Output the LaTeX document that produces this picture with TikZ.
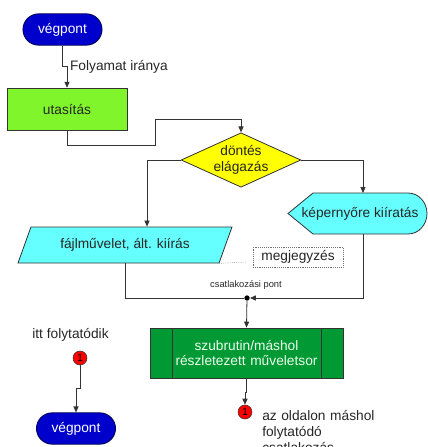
\documentclass[tikz,border=0pt]{standalone}
\usepackage{fontspec}
\setmainfont{Liberation Sans}
\usetikzlibrary{arrows.meta,positioning,calc,shapes.geometric,shapes.misc}
\definecolor{vblue}{RGB}{0,0,204}
\definecolor{lime}{RGB}{129,245,43}
\definecolor{dyellow}{RGB}{255,255,0}
\definecolor{scyan}{RGB}{102,255,255}
\definecolor{sgreen}{RGB}{0,153,51}
\definecolor{cred}{RGB}{255,0,0}
\definecolor{ink}{RGB}{51,51,51}

\begin{document}
\begin{tikzpicture}[x=0.75pt, y=-0.75pt,
    box/.style={draw=ink, fill=#1, line width=0.6pt, align=center,
                font=\fontsize{10.3}{12}\selectfont, text=black!85},
    term/.style={rounded rectangle, draw=black!70!blue, fill=vblue, line width=0.6pt,
                 text=white, minimum width=66pt, minimum height=23.5pt,
                 font=\fontsize{10.3}{12}\selectfont},
    conn/.style={circle, draw=ink, fill=cred, inner sep=0pt, minimum size=10.5pt,
                 font=\fontsize{8}{8}\selectfont},
    lbl/.style={font=\fontsize{10.3}{12}\selectfont, text=black!85},
    arr/.style={-{Triangle[length=4.5pt,width=3.8pt]}, draw=ink, line width=0.6pt},
    wire/.style={draw=ink, line width=0.6pt}]

    \clip (0,0) rectangle (428,447);

    % start and first step
    \node[term] (v1) at (62.5,29.5) {végpont};
    \node[box=lime, minimum width=90pt, minimum height=32pt] (uta) at (67,109.5) {utasítás};
    \draw[arr] (v1.south) -- ++(0,21) -| (uta.north)
        node[lbl, pos=0.5, anchor=west, inner sep=2pt] (flow) {Folyamat iránya};

    % decision
    \node[box=dyellow, diamond, inner sep=0pt, aspect=2.2, text width=42pt,
          minimum width=88.5pt, minimum height=40.5pt] (dec) at (241,160) {döntés\\elágazás};
    \draw[arr] (uta.south) -- ++(0,14) -| ++(88,-26) -| (dec.north);

    % right branch: display
    \draw[draw=ink, fill=scyan, line width=0.6pt] (288,213.5) -- (313,193) -- (408,193)
        to[out=0,in=90] (427,213.5) to[out=-90,in=0] (408,234) -- (313,234) -- cycle;
    \node[lbl] (disp) at (360,213.5) {képernyőre kiíratás};
    \coordinate (dtop) at (363,193);
    \coordinate (dbot) at (363,234);
    \draw[arr] (dec.east) -| (dtop);

    % left branch: file i/o
    \node[box=scyan, trapezium, trapezium left angle=45, trapezium right angle=135,
          trapezium stretches body, minimum width=160.5pt, minimum height=27pt,
          inner sep=0pt] (para) at (125,245) {fájlművelet, ált. kiírás};
    \draw[arr] (dec.west) -| ($(para.north)+(22,0)$);

    % comment
    \node[lbl, draw=ink!70, densely dotted, minimum width=67.5pt, minimum height=15pt,
          inner sep=1pt] (note) at (298,257) {megjegyzés};
    \draw[ink!70, densely dotted] (para.bottom right corner) -- ($(note.west)+(-6,5)$);

    % junction
    \node[circle, fill=black, inner sep=0pt, minimum size=4pt] (jn) at (247,298) {};
    \node[font=\fontsize{7}{8}\selectfont, text=black!85] (jlbl) at (246,285) {csatlakozási pont};
    \draw[wire] (para.south) |- (jn);
    \draw[arr] (dbot) |- (jn);

    % subroutine
    \node[box=sgreen, text=white!92!green, minimum width=144.75pt, minimum height=37.5pt,
          text width=114pt, font=\fontsize{10.3}{11.5}\selectfont] (sub) at (246.5,353)
          {szubrutin/máshol\\részletezett műveletsor};
    \draw[ink, line width=0.6pt] ($(sub.north west)+(23,0)$) -- ($(sub.south west)+(23,0)$);
    \draw[ink, line width=0.6pt] ($(sub.north east)+(-22,0)$) -- ($(sub.south east)+(-22,0)$);
    \draw[arr] (jn) -- (sub.north);

    % off-page connector
    \node[conn] (c1) at (245,412) {1};
    \draw[arr] (sub.south) -- ++(0,14) -| (c1.north);
    \node[lbl, align=left, text width=110pt, anchor=north west, inner sep=0pt] (c1lbl)
        at (262,410) {az oldalon máshol\\folytatódó\\csatlakozás};

    % continues here
    \node[lbl] (c2lbl) at (70.5,335) {itt folytatódik};
    \node[conn] (c2) at (80,358) {1};
    \node[term] (v2) at (76,428.5) {végpont};
    \draw[arr] (c2.south) -- ++(0,23) -| (v2.north);
\end{tikzpicture}
\end{document}
